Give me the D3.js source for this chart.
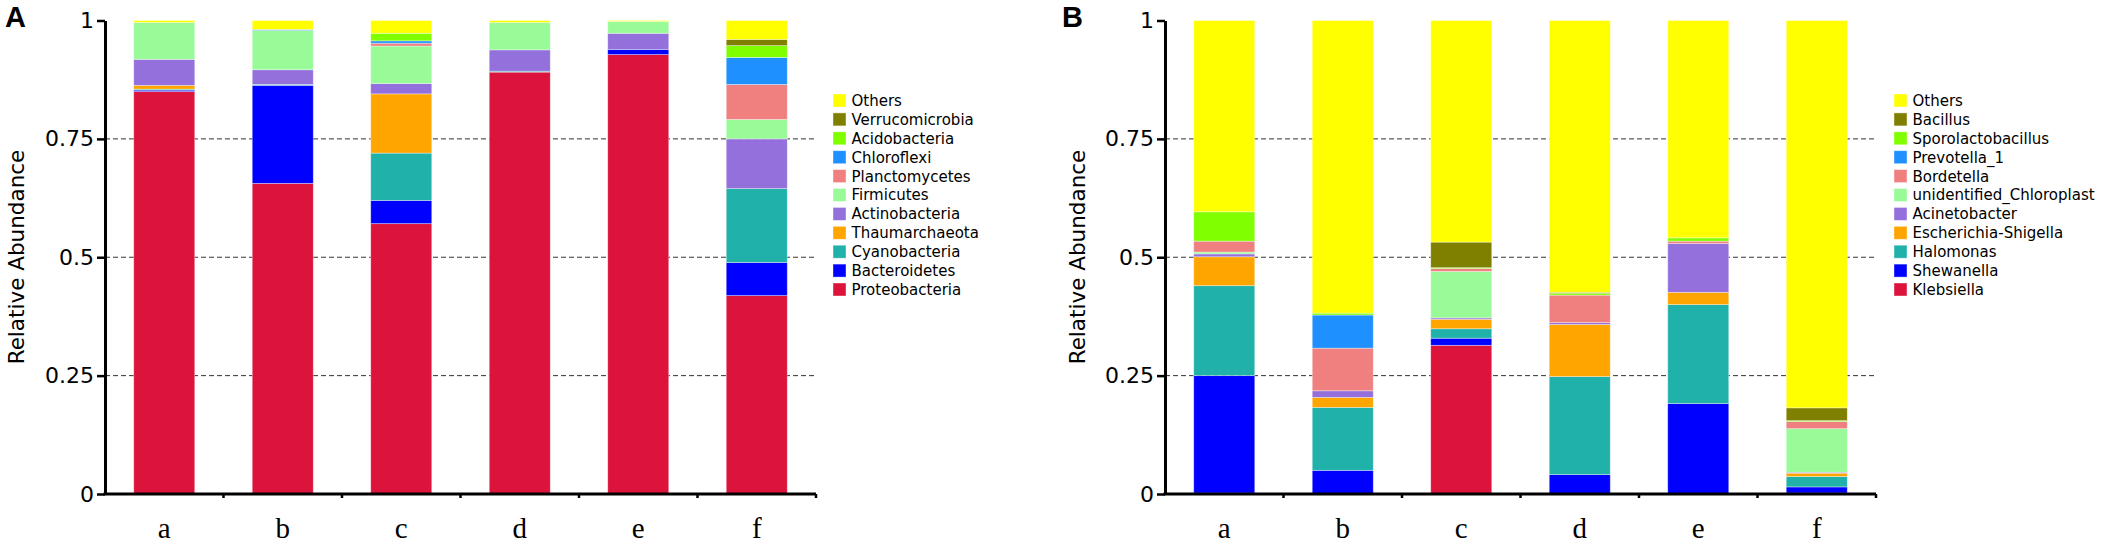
<!DOCTYPE html>
<html>
<head>
<meta charset="utf-8">
<script src="https://cdn.jsdelivr.net/npm/d3@7"></script>
<style>
  body { margin: 0; background: #fff; }
  svg { display: block; }
</style>
</head>
<body>
<div id="chart"></div>
<script>
// Stacked relative abundance charts (A: phylum, B: genus)

var width = 2103
var height = 545

// Sample names (x axis)
const samples = ['a', 'b', 'c', 'd', 'e', 'f']
const yTicks = [0, 0.25, 0.5, 0.75, 1]

// Stack order, bottom to top
const phyla = ['Proteobacteria', 'Bacteroidetes', 'Cyanobacteria', 'Thaumarchaeota', 'Actinobacteria',
  'Firmicutes', 'Planctomycetes', 'Chloroflexi', 'Acidobacteria', 'Verrucomicrobia', 'Others']
const genera = ['Klebsiella', 'Shewanella', 'Halomonas', 'Escherichia-Shigella', 'Acinetobacter',
  'unidentified_Chloroplast', 'Bordetella', 'Prevotella_1', 'Sporolactobacillus', 'Bacillus', 'Others']

// Values per sample (a..f), same order as above
const proteobacteria   = [0.850, 0.656, 0.571, 0.891, 0.928, 0.419]
const bacteroidetes    = [0.003, 0.207, 0.049, 0.000, 0.011, 0.070]
const cyanobacteria    = [0.002, 0.002, 0.100, 0.002, 0.000, 0.156]
const thaumarchaeota   = [0.008, 0.000, 0.125, 0.000, 0.000, 0.000]
const actinobacteria   = [0.055, 0.031, 0.022, 0.045, 0.034, 0.105]
const firmicutes       = [0.078, 0.083, 0.079, 0.058, 0.025, 0.041]
const planctomycetes   = [0.000, 0.000, 0.006, 0.000, 0.000, 0.074]
const chloroflexi      = [0.000, 0.002, 0.005, 0.000, 0.000, 0.057]
const acidobacteria    = [0.000, 0.000, 0.016, 0.000, 0.000, 0.025]
const verrucomicrobia  = [0.000, 0.000, 0.000, 0.000, 0.000, 0.013]
const othersA          = [0.004, 0.019, 0.027, 0.004, 0.002, 0.040]

const klebsiella       = [0.002, 0.000, 0.314, 0.000, 0.000, 0.002]
const shewanella       = [0.248, 0.050, 0.015, 0.041, 0.191, 0.013]
const halomonas        = [0.190, 0.133, 0.020, 0.207, 0.209, 0.022]
const escherichia      = [0.061, 0.021, 0.020, 0.110, 0.026, 0.007]
const acinetobacter    = [0.006, 0.014, 0.003, 0.004, 0.103, 0.002]
const chloroplast      = [0.004, 0.000, 0.098, 0.000, 0.000, 0.092]
const bordetella       = [0.023, 0.090, 0.006, 0.058, 0.005, 0.015]
const prevotella       = [0.000, 0.070, 0.000, 0.000, 0.000, 0.000]
const sporolactobacillus = [0.062, 0.004, 0.002, 0.004, 0.007, 0.002]
const bacillus         = [0.000, 0.000, 0.054, 0.002, 0.000, 0.027]
const othersB          = [0.404, 0.618, 0.468, 0.574, 0.459, 0.818]

const colors = ['#DC143C', '#0000FF', '#20B2AA', '#FFA500', '#9370DB',
  '#98FB98', '#F08080', '#1E90FF', '#7FFF00', '#808000', '#FFFF00']

const valuesA = [proteobacteria, bacteroidetes, cyanobacteria, thaumarchaeota, actinobacteria,
  firmicutes, planctomycetes, chloroflexi, acidobacteria, verrucomicrobia, othersA]
const valuesB = [klebsiella, shewanella, halomonas, escherichia, acinetobacter,
  chloroplast, bordetella, prevotella, sporolactobacillus, bacillus, othersB]

var svg = d3.select('#chart')
  .append('svg')
  .attr('width', width)
  .attr('height', height)

const yScale = d3.scaleLinear()
  .domain([0, 1])
  .range([494, 20.5])

const drawPanel = (opt) => {
  const g = svg.append('g')

  // turn the series arrays into rows for d3.stack
  const rows = samples.map((s, i) => {
    let row = { sample: s }
    opt.names.forEach((n, k) => { row[n] = opt.values[k][i] })
    return row
  })
  const stacked = d3.stack().keys(opt.names)(rows)

  const xScale = d3.scaleBand()
    .domain(samples)
    .range([opt.left, opt.right])
    .paddingInner(0.485)
    .paddingOuter(0.2425)

  // dashed grid lines
  g.selectAll('.grid')
    .data([0.25, 0.5, 0.75])
    .enter()
    .append('line')
    .attr('x1', opt.left)
    .attr('x2', opt.right)
    .attr('y1', d => yScale(d))
    .attr('y2', d => yScale(d))
    .attr('stroke', '#333')
    .attr('stroke-width', 1)
    .attr('stroke-dasharray', '5,3')

  // bars
  g.selectAll('.layer')
    .data(stacked)
    .enter()
    .append('g')
    .attr('fill', (d, i) => colors[i])
    .selectAll('rect')
    .data(d => d.filter(p => p[1] - p[0] > 0))
    .enter()
    .append('rect')
    .attr('x', d => xScale(d.data.sample))
    .attr('width', xScale.bandwidth())
    .attr('y', d => yScale(d[1]))
    .attr('height', d => yScale(d[0]) - yScale(d[1]))
    .attr('stroke', '#fff')
    .attr('stroke-opacity', 0.45)
    .attr('stroke-width', 0.8)

  // y axis
  const yAxis = g.append('g')
    .attr('transform', `translate(${opt.left},0)`)
    .call(d3.axisLeft(yScale).tickValues(yTicks).tickSize(8).tickSizeOuter(0).tickPadding(3)
      .tickFormat(d => String(d)))
  yAxis.select('.domain').attr('stroke-width', 3)
  yAxis.selectAll('.tick line').attr('stroke-width', 2.5)
  yAxis.selectAll('.tick text')
    .attr('font-family', 'DejaVu Sans, sans-serif')
    .attr('font-size', 22)
    .attr('fill', '#000')

  // x axis line and small boundary ticks
  g.append('line')
    .attr('x1', opt.left - 1.5)
    .attr('x2', opt.right)
    .attr('y1', yScale(0))
    .attr('y2', yScale(0))
    .attr('stroke', '#000')
    .attr('stroke-width', 3)
  const step = xScale.step()
  g.selectAll('.xtick')
    .data(samples)
    .enter()
    .append('line')
    .attr('x1', (d, i) => opt.left + step * (i + 1))
    .attr('x2', (d, i) => opt.left + step * (i + 1))
    .attr('y1', yScale(0))
    .attr('y2', yScale(0) + 4)
    .attr('stroke', '#000')
    .attr('stroke-width', 2.5)

  g.selectAll('.xlabel')
    .data(samples)
    .enter()
    .append('text')
    .text(d => d)
    .attr('x', d => xScale(d) + xScale.bandwidth() / 2)
    .attr('y', 538)
    .attr('text-anchor', 'middle')
    .attr('font-family', 'Liberation Serif, Times New Roman, serif')
    .attr('font-size', 29)

  // y axis title
  g.append('text')
    .text('Relative Abundance')
    .attr('transform', `translate(${opt.titleX},257) rotate(-90)`)
    .attr('text-anchor', 'middle')
    .attr('font-family', 'DejaVu Sans, sans-serif')
    .attr('font-size', 21.5)

  // panel letter
  g.append('text')
    .text(opt.letter)
    .attr('x', opt.letterX)
    .attr('y', 27)
    .attr('font-family', 'Liberation Sans, Arial, sans-serif')
    .attr('font-weight', 'bold')
    .attr('font-size', 29)

  // legend, top entry is the last series
  const legend = g.selectAll('.legend')
    .data(opt.names.slice().reverse())
    .enter()
    .append('g')
    .attr('transform', (d, i) => `translate(${opt.legendX},${100.5 + i * 18.9})`)
  legend.append('rect')
    .attr('x', 0)
    .attr('y', -6.5)
    .attr('width', 13)
    .attr('height', 13)
    .attr('fill', d => colors[opt.names.indexOf(d)])
    .attr('stroke', '#fff')
    .attr('stroke-opacity', 0.5)
    .attr('stroke-width', 0.8)
  legend.append('text')
    .text(d => d)
    .attr('x', 18.5)
    .attr('y', 0)
    .attr('dy', '0.36em')
    .attr('font-family', 'DejaVu Sans, sans-serif')
    .attr('font-size', 15)
}

drawPanel({ names: phyla, values: valuesA, left: 105, right: 816, legendX: 833, titleX: 24, letter: 'A', letterX: 5 })
drawPanel({ names: genera, values: valuesB, left: 1165, right: 1876, legendX: 1894, titleX: 1085, letter: 'B', letterX: 1062 })
</script>
</body>
</html>
